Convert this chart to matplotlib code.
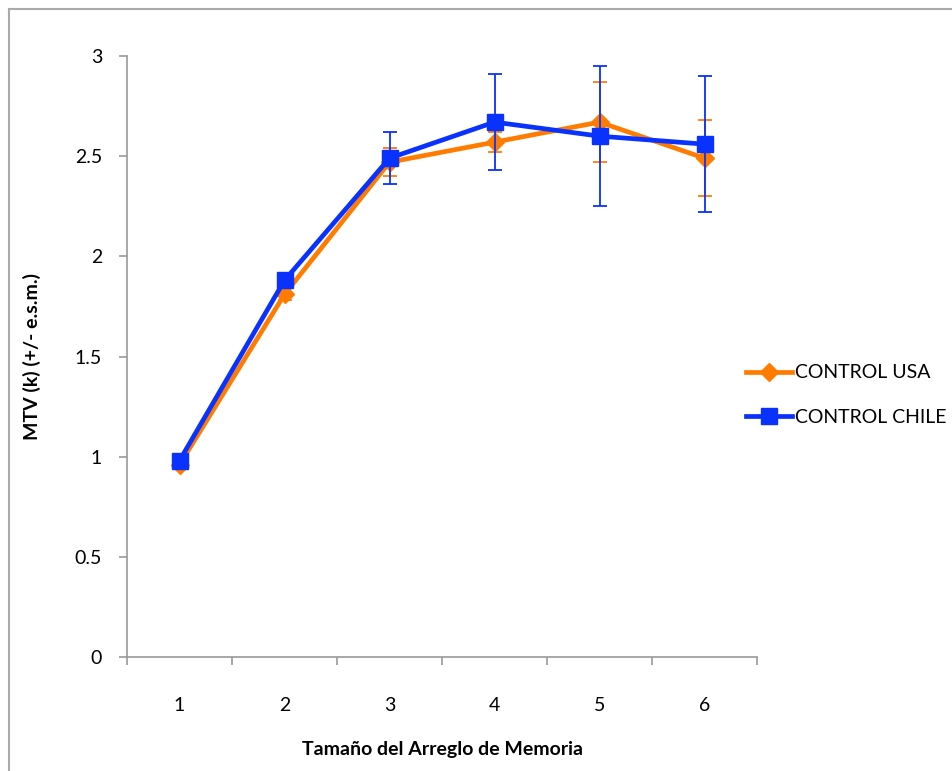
import numpy as np
import matplotlib.pyplot as plt
from matplotlib.lines import Line2D

plt.rcParams['font.family'] = ['Lato', 'DejaVu Sans']

categories = [1, 2, 3, 4, 5, 6]
usa = [0.96, 1.81, 2.47, 2.57, 2.67, 2.49]
usa_err = [0.02, 0.03, 0.07, 0.05, 0.20, 0.19]
chile = [0.98, 1.88, 2.49, 2.67, 2.60, 2.56]
chile_err = [0.02, 0.03, 0.13, 0.24, 0.35, 0.34]

orange = '#FF7C00'
blue = '#0A32FF'

fig = plt.figure(figsize=(9.52, 7.71), dpi=100)
ax = fig.add_axes([127 / 952, 114 / 771, 630 / 952, 601 / 771])

x = np.array(categories)
ax.errorbar(x, usa, yerr=usa_err, color=orange, lw=3.4, marker='D', ms=9,
            ecolor=orange, elinewidth=1.3, capsize=5, capthick=1.3, zorder=3)
ax.errorbar(x, chile, yerr=chile_err, color=blue, lw=3.4, marker='s', ms=12,
            ecolor=blue, elinewidth=1.3, capsize=5, capthick=1.3, zorder=4)

ax.set_xlim(0.5, 6.5)
ax.set_ylim(0, 3)
ax.set_yticks(np.arange(0, 3.01, 0.5))
ax.set_yticklabels(['0', '0.5', '1', '1.5', '2', '2.5', '3'])
ax.set_xticks(x)
ax.set_xticks(np.arange(0.5, 6.6, 1), minor=True)
ax.tick_params(axis='x', which='major', length=0, pad=29, labelsize=14)
ax.tick_params(axis='x', which='minor', length=6, color='#999999', width=1.2, direction='out')
ax.tick_params(axis='y', length=6, color='#999999', width=1.2, pad=12, labelsize=14)
for s in ['top', 'right']:
    ax.spines[s].set_visible(False)
for s in ['left', 'bottom']:
    ax.spines[s].set_color('#999999')
    ax.spines[s].set_linewidth(1.2)

ax.set_xlabel('Tamaño del Arreglo de Memoria', fontsize=14, fontweight='bold', labelpad=19)
ax.set_ylabel('MTV (k) (+/- e.s.m.)', fontsize=14, fontweight='bold', labelpad=24)

handles = [Line2D([], [], color=orange, lw=3.4, marker='D', ms=9),
           Line2D([], [], color=blue, lw=3.4, marker='s', ms=12)]
fig.legend(handles, ['CONTROL USA', 'CONTROL CHILE'], loc='center left',
           bbox_to_anchor=(728 / 952, 1 - 395 / 771), frameon=False,
           fontsize=14, handlelength=2.4, handletextpad=0.15, labelspacing=1.4)

# outer frame of the chart area
fig.add_artist(Line2D([9 / 952, 9 / 952], [0, 1 - 9 / 771], color='#aaaaaa', lw=1.5))
fig.add_artist(Line2D([9 / 952, 1], [1 - 9 / 771, 1 - 9 / 771], color='#aaaaaa', lw=1.5))

fig.savefig('out.png', dpi=100)
